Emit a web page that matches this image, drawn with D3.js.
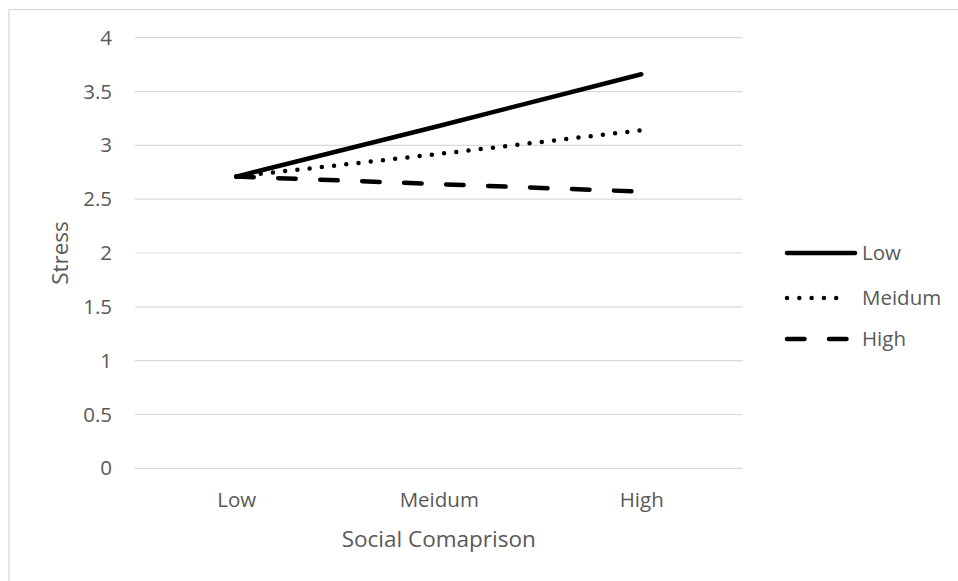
<!DOCTYPE html>
<html>
<head>
<meta charset="utf-8">
<script src="https://cdn.jsdelivr.net/npm/d3@7"></script>
<style>
  html, body { margin: 0; padding: 0; background: #fff; }
  svg { display: block; }
  text { font-family: "Open Sans", Lato, sans-serif; fill: #595959; }
</style>
</head>
<body>
<svg id="chart" width="958" height="581"></svg>
<script>
// ---- data ----
const categories = ["Low", "Meidum", "High"];
const seriesNames = ["Low", "Meidum", "High"];
const lowValues = [2.71, 3.18, 3.66];
const mediumValues = [2.71, 2.92, 3.14];
const highValues = [2.71, 2.64, 2.57];
const yTicks = [0, 0.5, 1, 1.5, 2, 2.5, 3, 3.5, 4];
const xTitle = "Social Comaprison";
const yTitle = "Stress";

const series = [
  { name: seriesNames[0], values: lowValues, dash: null },
  { name: seriesNames[1], values: mediumValues, dash: "0 12.3" },
  { name: seriesNames[2], values: highValues, dash: "17.5 24.5" }
];

// ---- layout ----
const svg = d3.select("#chart");
const plot = { left: 135, right: 742.5, top: 37.7, bottom: 468.3 };
const FONT = "'Open Sans', Lato, sans-serif";

svg.append("rect")
  .attr("x", 9).attr("y", 9.5)
  .attr("width", 1000).attr("height", 1000)
  .attr("fill", "none").attr("stroke", "#d9d9d9").attr("stroke-width", 1.3);

const x = d3.scalePoint().domain(categories)
  .range([plot.left, plot.right]).padding(0.5);
const y = d3.scaleLinear().domain([0, 4]).range([plot.bottom, plot.top]);

// gridlines
svg.append("g").selectAll("line").data(yTicks).join("line")
  .attr("x1", plot.left).attr("x2", plot.right)
  .attr("y1", d => y(d)).attr("y2", d => y(d))
  .attr("stroke", "#d9d9d9").attr("stroke-width", 1.2);

// y axis labels
const yAxis = d3.axisLeft(y).tickValues(yTicks).tickSize(0).tickPadding(0)
  .tickFormat(d => String(d));
const gy = svg.append("g").attr("transform", `translate(112,0)`).call(yAxis);
gy.select(".domain").remove();
gy.selectAll("text").style("font-size", "20.5px").attr("fill", "#595959")
  .style("font-family", FONT);

// x axis labels
const xAxis = d3.axisBottom(x).tickSize(0).tickPadding(0);
const gx = svg.append("g").attr("transform", `translate(0,${plot.bottom})`).call(xAxis);
gx.select(".domain").remove();
gx.selectAll("text").attr("dy", null).attr("y", 38.5).style("font-size", "20.5px")
  .attr("fill", "#595959").style("font-family", FONT);

// titles
svg.append("text").attr("x", (plot.left + plot.right) / 2).attr("y", 547)
  .attr("text-anchor", "middle").style("font-size", "22.5px").text(xTitle);
svg.append("text")
  .attr("transform", `translate(68,${(plot.top + plot.bottom) / 2}) rotate(-90)`)
  .attr("text-anchor", "middle").style("font-size", "22.5px").text(yTitle);

// lines
const line = d3.line().x((d, i) => x(categories[i])).y(d => y(d));
series.forEach(s => {
  const p = svg.append("path").datum(s.values)
    .attr("d", line)
    .attr("fill", "none").attr("stroke", "#000")
    .attr("stroke-width", 4.5).attr("stroke-linecap", "round")
    .attr("stroke-linejoin", "round");
  if (s.dash) p.attr("stroke-dasharray", s.dash);
});

// legend
const legendY = [253, 298, 339];
const legendEnd = [855, 848, 850];
const lg = svg.append("g");
series.forEach((s, i) => {
  const l = lg.append("line")
    .attr("x1", 787).attr("x2", legendEnd[i])
    .attr("y1", legendY[i]).attr("y2", legendY[i])
    .attr("stroke", "#000").attr("stroke-width", 4.5).attr("stroke-linecap", "round");
  if (s.dash) l.attr("stroke-dasharray", s.dash);
  lg.append("text").attr("x", 862).attr("y", legendY[i]).attr("dy", "0.36em")
    .style("font-size", "20.5px").text(s.name);
});
</script>
</body>
</html>
